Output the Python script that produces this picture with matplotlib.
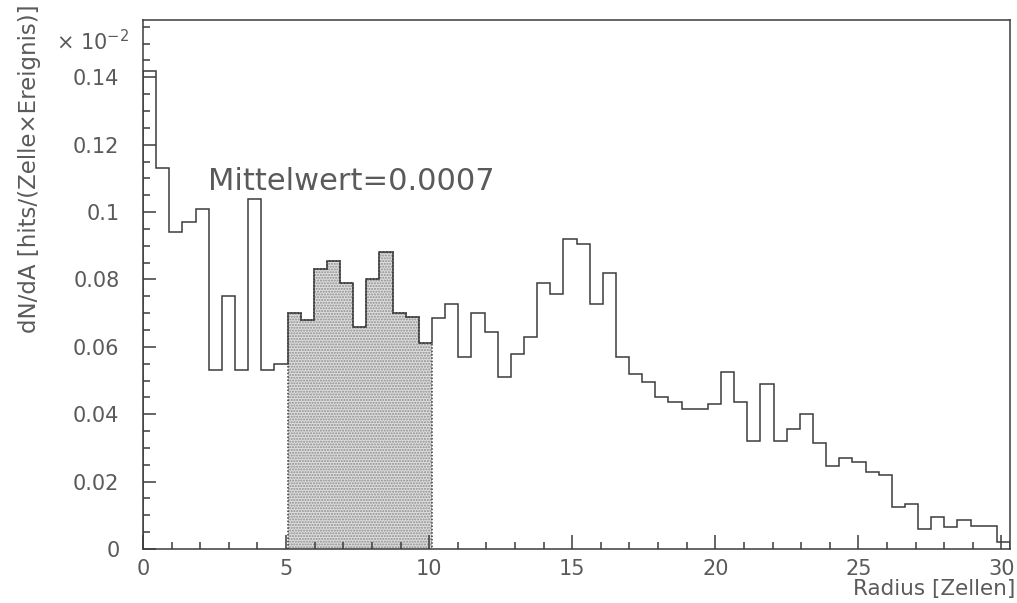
import numpy as np
import matplotlib
matplotlib.use("Agg")
import matplotlib.pyplot as plt
from matplotlib.ticker import FixedLocator, FixedFormatter, MultipleLocator

# Hit density per bin (in units of 1e-2), 66 radial bins
dn_da = [
    0.142, 0.113, 0.094, 0.097, 0.101, 0.053, 0.075, 0.053, 0.104, 0.053, 0.055,
    0.070, 0.068, 0.083, 0.0855, 0.079, 0.066, 0.080, 0.088, 0.070, 0.069, 0.061,
    0.0685, 0.0727, 0.057, 0.070, 0.0645, 0.051, 0.058, 0.063, 0.079, 0.0758,
    0.092, 0.0905, 0.0726, 0.082, 0.057, 0.052, 0.0496, 0.045, 0.0437, 0.0415,
    0.0415, 0.043, 0.0524, 0.0435, 0.032, 0.049, 0.032, 0.0355, 0.040, 0.0315,
    0.0245, 0.027, 0.0258, 0.0228, 0.022, 0.0124, 0.0133, 0.006, 0.0095, 0.0065,
    0.0086, 0.0068, 0.0068, 0.002,
]
radius_min, radius_max = 0.0, 30.3
shaded_first, shaded_last = 11, 21          # bins covering radius 5..10

y_major = [0, 0.02, 0.04, 0.06, 0.08, 0.10, 0.12, 0.14]
y_labels = ["0", "0.02", "0.04", "0.06", "0.08", "0.1", "0.12", "0.14"]
x_major = [0, 5, 10, 15, 20, 25, 30]
x_labels = ["0", "5", "10", "15", "20", "25", "30"]
mean_text = "Mittelwert=0.0007"

plt.rcParams["font.family"] = ["DejaVu Sans"]
line_c = "#3c3c3c"
text_c = "#5a5a5a"

values = np.array(dn_da)
edges = np.linspace(radius_min, radius_max, len(values) + 1)

W, H = 1017, 603
fig = plt.figure(figsize=(W / 100, H / 100), dpi=100)
ax = fig.add_axes([143 / W, 1 - 549 / H, (1010 - 143) / W, (549 - 20) / H])

# shaded 5..10 region: stippled fill with dotted outline
sl = slice(shaded_first, shaded_last + 1)
ax.stairs(values[sl], edges[shaded_first:shaded_last + 2], baseline=0, fill=True,
          facecolor="#dedede", edgecolor="#8c8c8c", hatch="......", linewidth=0)
ax.stairs(values[sl], edges[shaded_first:shaded_last + 2], baseline=0, fill=False,
          color=line_c, linestyle=(0, (1, 1.2)), linewidth=1.1)

# full histogram outline
ax.stairs(values, edges, baseline=0, fill=False, color=line_c, linewidth=1.1)

ax.set_xlim(radius_min, radius_max)
ax.set_ylim(0, 0.157)

for s in ax.spines.values():
    s.set_color(line_c)
    s.set_linewidth(1.1)

ax.yaxis.set_major_locator(FixedLocator(y_major))
ax.yaxis.set_major_formatter(FixedFormatter(y_labels))
ax.yaxis.set_minor_locator(MultipleLocator(0.005))
ax.xaxis.set_major_locator(FixedLocator(x_major))
ax.xaxis.set_major_formatter(FixedFormatter(x_labels))
ax.xaxis.set_minor_locator(MultipleLocator(1))

ax.tick_params(axis="both", which="both", direction="in", color=line_c,
               width=1.1, labelcolor=text_c, labelsize=15)
ax.tick_params(axis="y", which="major", length=9.5, pad=17)
ax.tick_params(axis="y", which="minor", length=5)
ax.tick_params(axis="x", which="major", length=10, pad=7)
ax.tick_params(axis="x", which="minor", length=5)

fig.text(208 / W, 1 - 182 / H, mean_text, fontsize=22, color=text_c,
         ha="left", va="center")

fig.text(129 / W, 1 - 50 / H, r"$\times$ 10$^{-2}$", fontsize=15,
         color=text_c, ha="right", va="baseline")

fig.text(30 / W, 1 - 4 / H, "dN/dA [hits/(Zelle×Ereignis)]", rotation=90,
         fontsize=16.5, color=text_c, ha="center", va="top")

fig.text(1015 / W, 1 - 595 / H, "Radius [Zellen]", fontsize=15.5,
         color=text_c, ha="right", va="baseline")

fig.savefig("out.png", dpi=100, facecolor="white")
